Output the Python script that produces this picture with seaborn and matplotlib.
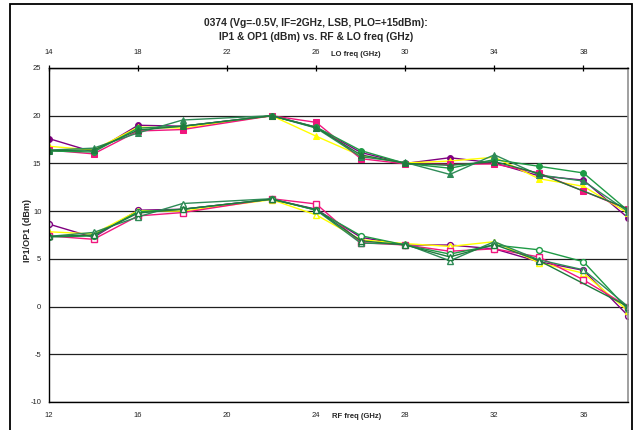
import matplotlib
matplotlib.use("Agg")
import matplotlib.pyplot as plt
import seaborn as sns
import pandas as pd
from matplotlib.patches import Rectangle

# ---------------- data ----------------
rf = [12, 14, 16, 18, 22, 24, 26, 28, 30, 32, 34, 36, 38]
rf_b = [12, 14, 16, 18, 22, 24, 26, 28, 30, 32, 34, 38]   # series without 36 GHz point

series_names = ["A", "B", "C", "D", "E", "F"]
series_colors = ["#800080", "#FFFF00", "#F0167E", "#1E9A45", "#2E8B57", "#1F7A3E"]
series_markers = ["o", "^", "s", "o", "^", "^"]

# OP1 (upper group, filled markers)
op1_a = [17.6, 16.2, 19.0, 18.9, 20.0, 18.8, 16.15, 15.0, 15.6, 15.05, 13.7, 13.25, 9.3]
op1_b = [16.8, 16.4, 18.8, 18.7, 20.0, 17.85, 15.8, 15.05, 15.25, 15.65, 13.4, 12.6, 9.8]
op1_c = [16.4, 16.0, 18.4, 18.55, 20.0, 19.3, 15.5, 14.95, 14.9, 14.95, 14.0, 12.1, 10.2]
op1_d = [16.3, 16.2, 18.7, 18.9, 20.0, 18.8, 16.35, 15.0, 14.5, 15.4, 14.7, 14.0, 10.05]
op1_e = [16.4, 16.6, 18.2, 19.55, 20.0, 18.7, 15.7, 15.1, 13.85, 15.9, 13.8, 13.15, 9.95]
op1_f = [16.35, 16.4, 18.5, 18.9, 20.0, 18.75, 15.9, 15.0, 14.8, 15.2, 13.95, 10.25]

# IP1 (lower group, hollow markers)
ip1_a = [8.64, 7.25, 10.1, 10.2, 11.25, 10.2, 7.26, 6.45, 6.45, 6.05, 4.7, 3.8, -0.95]
ip1_b = [7.84, 7.6, 10.05, 10.0, 11.2, 9.6, 7.0, 6.6, 6.3, 6.8, 4.6, 3.5, -0.45]
ip1_c = [7.4, 7.05, 9.5, 9.85, 11.3, 10.75, 6.7, 6.45, 5.8, 6.05, 5.2, 2.8, 0.0]
ip1_d = [7.3, 7.4, 9.95, 10.2, 11.25, 10.1, 7.43, 6.45, 5.5, 6.45, 5.95, 4.7, -0.3]
ip1_e = [7.35, 7.77, 9.4, 10.8, 11.3, 10.1, 6.65, 6.55, 4.8, 6.8, 4.9, 3.85, 0.0]
ip1_f = [7.35, 7.5, 9.8, 10.2, 11.25, 10.15, 6.9, 6.45, 5.2, 6.5, 4.82, 0.0]

op1_all = [op1_a, op1_b, op1_c, op1_d, op1_e, op1_f]
ip1_all = [ip1_a, ip1_b, ip1_c, ip1_d, ip1_e, ip1_f]
x_all = [rf, rf, rf, rf, rf, rf_b]

title_text = "0374 (Vg=-0.5V, IF=2GHz, LSB, PLO=+15dBm):\nIP1 & OP1 (dBm) vs. RF & LO freq (GHz)"
rf_ticks = [12, 16, 20, 24, 28, 32, 36]
lo_ticks = [14, 18, 22, 26, 30, 34, 38]
y_ticks = [-10, -5, 0, 5, 10, 15, 20, 25]
if_freq = 2

# ---------------- style ----------------
sns.set_style("white")
plt.rcParams["font.family"] = ["Liberation Sans", "DejaVu Sans"]
plt.rcParams["axes.unicode_minus"] = False

W, H = 634, 430
fig = plt.figure(figsize=(W / 100, H / 100), dpi=100)
fig.patch.set_facecolor("white")

L, R, T, B = 49, 628, 68, 402
ax = fig.add_axes([L / W, 1 - B / H, (R - L) / W, (B - T) / H])

for xs, op, ip, col, mk in zip(x_all, op1_all, ip1_all, series_colors, series_markers):
    df_op = pd.DataFrame({"rf": xs, "val": op})
    df_ip = pd.DataFrame({"rf": xs, "val": ip})
    sns.lineplot(data=df_op, x="rf", y="val", ax=ax, color=col, marker=mk,
                 markersize=4.2, markerfacecolor=col, markeredgecolor=col,
                 linewidth=1.0, estimator=None, sort=False)
    sns.lineplot(data=df_ip, x="rf", y="val", ax=ax, color=col, marker=mk,
                 markersize=4.2, markerfacecolor="white", markeredgecolor=col,
                 markeredgewidth=1.0, linewidth=1.0, estimator=None, sort=False)

ax.set_xlim(12, 38)
ax.set_ylim(-10, 25)
ax.set_xticks(rf_ticks)
ax.set_yticks(y_ticks)
ax.set_xlabel("")
ax.set_ylabel("")
ax.yaxis.grid(True, color="#202020", linewidth=0.9)
ax.xaxis.grid(False)
ax.set_axisbelow(True)

for s in ["left", "bottom", "top"]:
    ax.spines[s].set_color("black")
    ax.spines[s].set_linewidth(1.0)
ax.spines["right"].set_color("#909090")
ax.spines["right"].set_linewidth(1.2)

ax.tick_params(axis="both", which="major", direction="inout", length=5, width=0.9,
               color="black", labelsize=5.5, labelcolor="#222222", pad=3)
ax.tick_params(axis="x", pad=5)

secax = ax.secondary_xaxis("top", functions=(lambda x: x + if_freq, lambda x: x - if_freq))
secax.set_xticks(lo_ticks)
secax.tick_params(axis="x", direction="inout", length=5, width=0.9, color="black",
                  labelsize=5.5, labelcolor="#222222", pad=6)
secax.spines["top"].set_color("black")

fig.text(316 / W, 1 - 30 / H, title_text, ha="center", va="center",
         fontsize=7.4, fontweight="bold", linespacing=1.45)
fig.text(356 / W, 1 - 55 / H, "LO freq (GHz)", ha="center", va="center",
         fontsize=5.5, fontweight="bold")
fig.text(357 / W, 1 - 417 / H, "RF freq (GHz)", ha="center", va="center",
         fontsize=5.5, fontweight="bold")
fig.text(27 / W, 1 - 231 / H, "IP1/OP1 (dBm)", ha="center", va="center",
         rotation=90, fontsize=6.5, fontweight="bold")

fig.patches.append(Rectangle((10 / W, -0.05), (632 - 10) / W, 1 - 4 / H + 0.05,
                             transform=fig.transFigure, fill=False,
                             edgecolor="black", linewidth=1.3))

fig.savefig("out.png", dpi=100, facecolor="white")
